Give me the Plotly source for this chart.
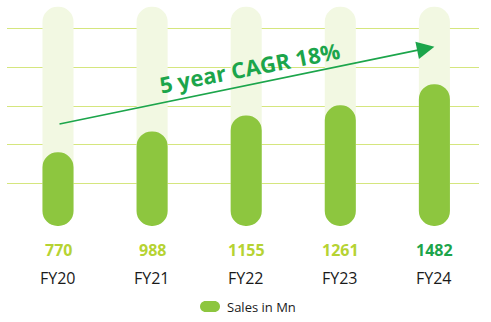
import plotly.graph_objects as go

# ---- data ----
categories = ["FY20", "FY21", "FY22", "FY23", "FY24"]
sales = [770, 988, 1155, 1261, 1482]
value_labels = ["770", "988", "1155", "1261", "1482"]
series_name = "Sales in Mn"
track_max = 2290          # height of the pale background track
grid_levels = [439, 849, 1253, 1657, 2065]
cagr_text = "5 year CAGR 18%"
cagr_from = (0, 1062)     # arrow start (category index, value)
cagr_to = (4, 1873)       # arrow end

# ---- styling ----
W, H = 491, 322
ML, MR, MT, MB = 7, 12, 0, 0
PW, PH = W - ML - MR, H - MT - MB
XR = [-0.542, 4.474]
YR = [-1003, 2361]
BAR_W = 0.33
GREEN = "#8DC63F"
TRACK = "#F2F8E2"
GRID = "#D5E67E"
LABEL = "#B6D333"
DARK = "#1CA54B"
FONT = "Open Sans"

def px2x(px):
    return (px - ML) / PW

def py2y(py):
    return 1 - (py - MT) / PH

xs = list(range(len(categories)))
fig = go.Figure()

def capsule(values, color):
    fig.add_trace(go.Bar(x=xs, y=values, base=[0] * len(values),
                         width=BAR_W, marker=dict(color=color, cornerradius="50%", line_width=0),
                         showlegend=False, hoverinfo="skip"))

capsule([track_max] * len(categories), TRACK)
capsule(sales, GREEN)

annotations = []
for i, (c, lab) in enumerate(zip(categories, value_labels)):
    annotations.append(dict(x=i, xref="x", y=py2y(250), yref="paper", text=f"<b>{lab}</b>",
                            xanchor="center", yanchor="middle",
                            showarrow=False, font=dict(family=FONT, size=16,
                            color=DARK if i == len(categories) - 1 else LABEL)))
    annotations.append(dict(x=i, xref="x", y=py2y(278), yref="paper", text=c,
                            xanchor="center", yanchor="middle",
                            showarrow=False, font=dict(family=FONT, size=16, color="#1a1a1a")))

# CAGR arrow
annotations.append(dict(x=cagr_to[0], y=cagr_to[1], xref="x", yref="y",
                        ax=cagr_from[0], ay=cagr_from[1], axref="x", ayref="y",
                        text="", showarrow=True, arrowhead=2, arrowsize=2.2, arrowwidth=1.6,
                        arrowcolor=DARK))
annotations.append(dict(x=px2x(250), y=py2y(67), xref="paper", yref="paper",
                        xanchor="center", yanchor="middle",
                        text=f"<b>{cagr_text}</b>", textangle=-11, showarrow=False,
                        font=dict(family=FONT, size=22, color=DARK)))

# legend
annotations.append(dict(x=px2x(225), y=py2y(306.5), xref="paper", yref="paper",
                        xanchor="left", yanchor="middle",
                        text=series_name, showarrow=False,
                        font=dict(family=FONT, size=13, color="#1a1a1a")))

def pill_path(x0, x1, y0, y1):
    r = (y1 - y0) / 2
    k = 0.5523 * r
    cy = (y0 + y1) / 2
    def P(px, py):
        return f"{px2x(px):.5f},{py2y(py):.5f}"
    a, b = x0 + r, x1 - r
    return (f"M {P(a, y0)} L {P(b, y0)} "
            f"C {P(b + k, y0)} {P(x1, cy - k)} {P(x1, cy)} "
            f"C {P(x1, cy + k)} {P(b + k, y1)} {P(b, y1)} "
            f"L {P(a, y1)} "
            f"C {P(a - k, y1)} {P(x0, cy + k)} {P(x0, cy)} "
            f"C {P(x0, cy - k)} {P(a - k, y0)} {P(a, y0)} Z")

shapes = [dict(type="path", xref="paper", yref="paper", path=pill_path(200, 220, 301, 312),
               fillcolor=GREEN, line=dict(width=0))]

fig.update_layout(
    width=W, height=H, margin=dict(l=ML, r=MR, t=MT, b=MB),
    paper_bgcolor="white", plot_bgcolor="white",
    barmode="overlay", showlegend=False,
    xaxis=dict(range=XR, visible=False, fixedrange=True),
    yaxis=dict(range=YR, tickvals=grid_levels, showticklabels=False, showgrid=True,
               gridcolor=GRID, gridwidth=1, zeroline=False, showline=False, ticks=""),
    annotations=annotations, shapes=shapes,
)

fig.write_html("out.html")
